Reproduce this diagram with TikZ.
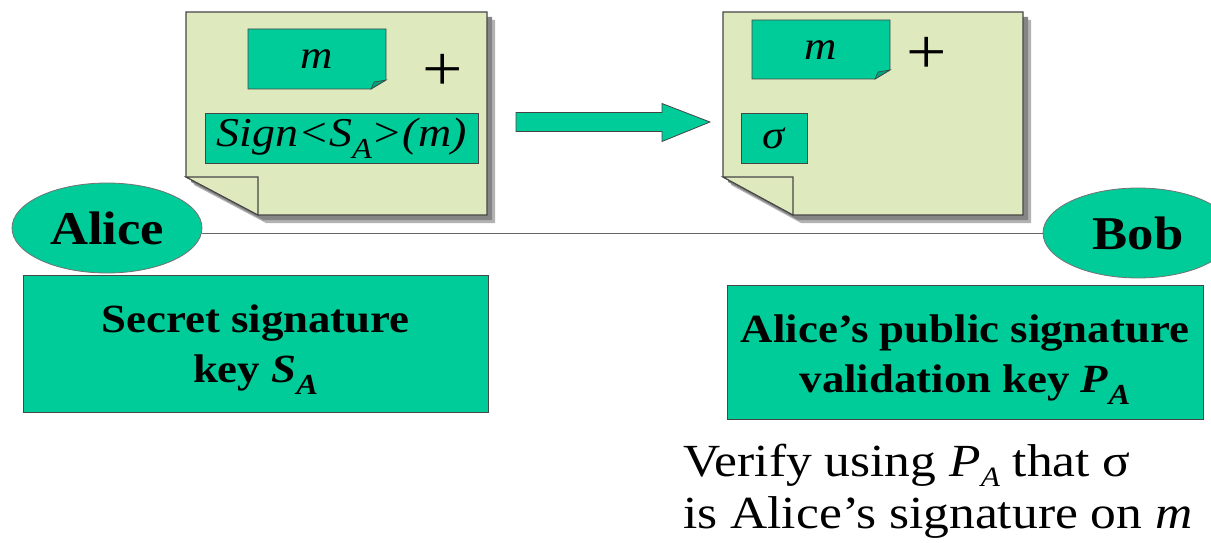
\documentclass[tikz,border=0pt]{standalone}
\usepackage{fontspec}
\setmainfont[FakeStretch=1.12]{Liberation Serif}
\usetikzlibrary{shapes.geometric}

\definecolor{keyteal}{RGB}{0,204,153}
\definecolor{keytealdark}{RGB}{0,160,120}
\definecolor{paper}{RGB}{222,234,190}
\definecolor{edge}{RGB}{70,70,70}

\newcommand{\subA}{\raisebox{-0.3em}{\fontsize{29}{29}\selectfont\itshape A}}
\newcommand{\lowA}{\raisebox{-0.22em}{\fontsize{28}{28}\selectfont\itshape A}}

\tikzset{
  paperdoc/.style={fill=paper, draw=edge, line width=1.1pt, line join=miter},
  softshadow/.style={fill=black!30},
  hardshadow/.style={fill=black!48},
  tealbox/.style={draw=edge, fill=keyteal, line width=0.8pt, inner sep=0pt},
  party/.style={ellipse, draw=black!55, fill=keyteal, line width=0.8pt,
    minimum width=190pt, minimum height=90pt, inner sep=0pt,
    font=\fontsize{47}{50}\selectfont\bfseries},
  keytext/.style={align=center, inner sep=0pt,
    font=\fontsize{40}{50}\selectfont\bfseries},
  msgtext/.style={inner sep=0pt, font=\fontsize{40}{44}\selectfont\itshape},
  plussign/.style={inner sep=0pt, font=\fontsize{64}{64}\selectfont},
  blockarrow/.style={fill=keyteal, draw=edge, line width=0.8pt, line join=miter},
  foldflap/.style={fill=keytealdark, draw=edge, line width=0.6pt},
}

\begin{document}
\begin{tikzpicture}[x=1pt, y=-1pt]
\useasboundingbox (0,0) rectangle (1211,543);
\clip (0,0) rectangle (1211,543);
\fill[white] (0,0) rectangle (1211,543);

% ---- sender's document ----
\fill[softshadow] [shift={(8,8)}] (186,12) -- (487,12) -- (487,215) -- (258,215) -- (186,177) -- cycle;
\fill[hardshadow] [shift={(5,5)}] (186,12) -- (487,12) -- (487,215) -- (258,215) -- (186,177) -- cycle;
\draw[paperdoc] (186,12) -- (487,12) -- (487,215) -- (258,215) -- (186,177) -- cycle;
\draw[paperdoc] (186,177) -- (258,177) -- (258,215) -- cycle;

\draw[tealbox] (248,29) -- (386,29) -- (386,80) -- (371,89) -- (248,89) -- cycle;
\draw[foldflap] (371,89) -- (374,82) -- (386,80) -- cycle;
\node[msgtext] (msgA) at (317,59) {m};
\node[plussign] (plusA) at (443,72) {+};
\node[tealbox, minimum width=273pt, minimum height=50pt,
      font=\fontsize{41}{44}\selectfont\itshape] (sig) at (341.5,138)
      {Sign<S\subA>(m)};

% ---- transfer arrow ----
\coordinate (arrowtail) at (516,122);
\coordinate (arrowtip) at (710,122);
\draw[blockarrow] (arrowtail) ++(0,-9.5) -- ++(146,0) -- ++(0,-9) -- (arrowtip)
  -- ++(-48,19.5) -- ++(0,-10) -- ++(-146,0) -- cycle;

% ---- receiver's document ----
\fill[softshadow] [shift={(8,8)}] (723,12) -- (1023,12) -- (1023,215) -- (793,215) -- (723,177) -- cycle;
\fill[hardshadow] [shift={(5,5)}] (723,12) -- (1023,12) -- (1023,215) -- (793,215) -- (723,177) -- cycle;
\draw[paperdoc] (723,12) -- (1023,12) -- (1023,215) -- (793,215) -- (723,177) -- cycle;
\draw[paperdoc] (723,177) -- (793,177) -- (793,215) -- cycle;

\draw[tealbox] (752,20) -- (890,20) -- (890,70) -- (875,79) -- (752,79) -- cycle;
\draw[foldflap] (875,79) -- (878,72) -- (890,70) -- cycle;
\node[msgtext] (msgB) at (821,50) {m};
\node[plussign] (plusB) at (927,55) {+};
\node[tealbox, minimum width=66pt, minimum height=50pt,
      font=\fontsize{40}{44}\selectfont\itshape] (sigma) at (774,138) {σ};

% ---- parties and channel ----
\node[party] (Alice) at (107,228) {Alice};
\node[party] (Bob) at (1138,233) {Bob};
\draw[black!60, line width=0.9pt] (Alice.east |- Bob.west) -- (Bob.west);

% ---- keys ----
\node[tealbox, minimum width=465pt, minimum height=137pt] (secret) at (255.5,343.5) {};
\node[keytext] (secretlbl) at (255.5,350) {Secret signature\\key \textit{S}\subA};

\node[tealbox, minimum width=476pt, minimum height=134pt] (public) at (965,352) {};
\node[keytext] (publiclbl) at (965,360) {Alice’s public signature\\validation key \textit{P}\subA};

% ---- verification step ----
\node[anchor=north west, align=left, inner sep=0pt,
      font=\fontsize{46}{52}\selectfont] (verify) at (683,444)
  {Verify using \textit{P}\lowA{} that σ\\is Alice’s signature on \textit{m}};
\end{tikzpicture}
\end{document}
